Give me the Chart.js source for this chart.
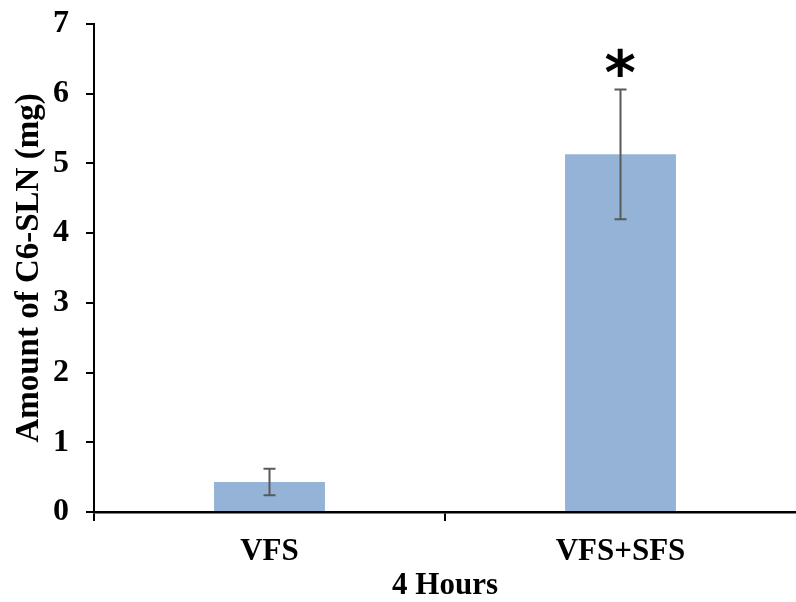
<!DOCTYPE html>
<html>
<head>
<meta charset="utf-8">
<script src="https://cdn.jsdelivr.net/npm/chart.js@4.4.0/dist/chart.umd.min.js"></script>
<style>
  html, body { margin: 0; padding: 0; background: #fff; }
  #wrap { width: 796px; height: 602px; position: relative; }
</style>
</head>
<body>
<div id="wrap"><canvas id="chart"></canvas></div>
<script>
// Amount of C6-SLN recovered after 4 hours, mean ± error
const categories = ['VFS', 'VFS+SFS'];
const amounts = [0.43, 5.13];
const errors = [0.19, 0.93];
const significance = ['', '*'];
const yTicks = [0, 1, 2, 3, 4, 5, 6, 7];
const xTitle = '4 Hours';
const yTitle = 'Amount of C6-SLN (mg)';

const serif = 'Liberation Serif';

// Error bars with caps, plus the significance marker above each bar
const errorBarPlugin = {
  id: 'errorBars',
  afterDatasetsDraw(chart) {
    const { ctx, scales: { y } } = chart;
    const meta = chart.getDatasetMeta(0);
    ctx.save();
    ctx.strokeStyle = '#595959';
    ctx.lineWidth = 2;
    meta.data.forEach((bar, i) => {
      const cx = bar.x;
      const top = y.getPixelForValue(amounts[i] + errors[i]);
      const bot = y.getPixelForValue(amounts[i] - errors[i]);
      ctx.beginPath();
      ctx.moveTo(cx, top); ctx.lineTo(cx, bot);
      ctx.moveTo(cx - 6, top); ctx.lineTo(cx + 6, top);
      ctx.moveTo(cx - 6, bot); ctx.lineTo(cx + 6, bot);
      ctx.stroke();
      if (significance[i]) {
        ctx.font = 'bold 60px "DejaVu Sans"';
        ctx.fillStyle = '#000';
        ctx.textAlign = 'left';
        ctx.textBaseline = 'alphabetic';
        const m = ctx.measureText(significance[i]);
        const inkW = m.actualBoundingBoxRight + m.actualBoundingBoxLeft;
        const inkH = m.actualBoundingBoxAscent + m.actualBoundingBoxDescent;
        const cy = top - 27;
        const px = cx - inkW / 2 + m.actualBoundingBoxLeft;
        const py = cy - inkH / 2 + m.actualBoundingBoxAscent;
        ctx.fillText(significance[i], px, py);
      }
    });
    ctx.restore();
  }
};

// tick marks only at real category boundaries, not at the far right end
const boundaryTickColor = (c) => (c.type === 'tick' ? '#000' : 'rgba(0,0,0,0)');

new Chart(document.getElementById('chart'), {
  type: 'bar',
  data: {
    labels: categories,
    datasets: [{
      data: amounts,
      backgroundColor: '#95B3D7',
      categoryPercentage: 1,
      barPercentage: 0.316
    }]
  },
  options: {
    responsive: true,
    maintainAspectRatio: false,
    animation: false,
    layout: { padding: { top: 24, right: 0, bottom: 0, left: 0 } },
    plugins: {
      legend: { display: false },
      tooltip: { enabled: false }
    },
    scales: {
      x: {
        offset: true,
        grid: {
          display: true,
          offset: true,
          drawOnChartArea: false,
          drawTicks: true,
          tickLength: 9,
          color: boundaryTickColor,
          tickColor: boundaryTickColor,
          lineWidth: 2
        },
        border: { display: true, color: '#000', width: 2.5, z: 1 },
        ticks: {
          color: '#000',
          padding: 12,
          maxRotation: 0,
          font: { family: serif, size: 31, weight: 'bold', lineHeight: 1.2 }
        },
        title: {
          display: true,
          text: xTitle,
          color: '#000',
          padding: { top: 0, bottom: -3 },
          font: { family: serif, size: 31, weight: 'bold', lineHeight: 1.2 }
        },
        afterFit(scale) { scale.height = 90; }
      },
      y: {
        min: 0,
        max: 7,
        afterBuildTicks(scale) { scale.ticks = yTicks.map(v => ({ value: v })); },
        grid: {
          display: true,
          drawOnChartArea: false,
          drawTicks: true,
          tickLength: 8,
          color: '#000',
          lineWidth: 2
        },
        border: { display: true, color: '#000', width: 2, z: 1 },
        ticks: {
          color: '#000',
          padding: 17,
          font: { family: serif, size: 32, weight: 'bold', lineHeight: 1.2 }
        },
        title: {
          display: true,
          text: yTitle,
          color: '#000',
          padding: { top: 10, bottom: 0 },
          font: { family: serif, size: 33, weight: 'bold', lineHeight: 1.2 }
        },
        afterFit(scale) {
          scale.width = 94;
          // the top label fits inside the layout padding
          scale.paddingTop = 0;
          scale.paddingBottom = 0;
        }
      }
    }
  },
  plugins: [errorBarPlugin]
});
</script>
</body>
</html>
